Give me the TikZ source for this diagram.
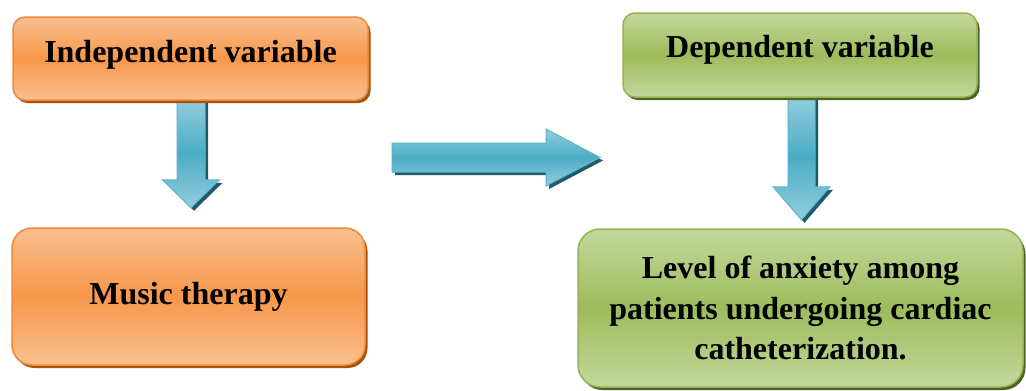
\documentclass[tikz,border=0pt]{standalone}
\usepackage{fontspec}
\setmainfont{Liberation Serif}
\usetikzlibrary{calc,shadows}
\definecolor{orMid}{HTML}{F7974A}
\definecolor{orLight}{HTML}{F9BF8F}
\definecolor{orLine}{HTML}{F08A38}
\definecolor{orShadow}{HTML}{A8520C}
\definecolor{grMid}{HTML}{9DBC5C}
\definecolor{grLight}{HTML}{C4D79C}
\definecolor{grLine}{HTML}{94B452}
\definecolor{grShadow}{HTML}{4F6228}
\definecolor{blMid}{HTML}{4BACC6}
\definecolor{blLight}{HTML}{93CEDD}
\definecolor{blLine}{HTML}{5AB4CC}
\definecolor{blShadow}{HTML}{215968}
\newcommand\myVArrow[5]{% start, tip, shaft half width, head half width, head length
  \fill[blShadow] let \p1=(#1), \p2=(#2) in
    (\x1-#3pt+3pt,\y1) -- (\x1+#3pt+3pt,\y1) -- (\x1+#3pt+3pt,\y2+#5pt-3pt)
    -- (\x1+#4pt+3pt,\y2+#5pt-3pt) -- (\x1+3pt,\y2-3pt) -- (\x1-#4pt+3pt,\y2+#5pt-3pt)
    -- (\x1-#3pt+3pt,\y2+#5pt-3pt) -- cycle;
  \shade[arrowfill] let \p1=(#1), \p2=(#2) in
    (\x1-#3pt,\y1) -- (\x1+#3pt,\y1) -- (\x1+#3pt,\y2+#5pt)
    -- (\x1+#4pt,\y2+#5pt) -- (\x1,\y2) -- (\x1-#4pt,\y2+#5pt)
    -- (\x1-#3pt,\y2+#5pt) -- cycle;
}
\begin{document}
\begin{tikzpicture}[x=1pt,y=-1pt,
  box/.style={line width=1.5pt, inner sep=0pt, align=center,
    font=\fontsize{32}{40.5}\selectfont\bfseries},
  orangebox/.style={box, draw=orLine, top color=orLight, bottom color=orLight, middle color=orMid,
    drop shadow={shadow xshift=2.5pt, shadow yshift=-3pt, fill=orShadow, opacity=1}},
  greenbox/.style={box, draw=grLine, top color=grLight, bottom color=grLight, middle color=grMid,
    drop shadow={shadow xshift=2.5pt, shadow yshift=-3pt, fill=grShadow, opacity=1}},
  arrowfill/.style={draw=blLine, line width=1pt, top color=blLight, bottom color=blLight, middle color=blMid}
]
\useasboundingbox (0,0) rectangle (1026,391);
\clip (0,0) rectangle (1026,391);
\fill[white] (0,0) rectangle (1026,391);

% boxes (coordinates only first, for arrows)
\path (190.5,58.5) node[minimum width=355pt, minimum height=83pt] (A) {};
\path (188.5,296.5) node[minimum width=353pt, minimum height=137pt] (B) {};
\path (800,55) node[minimum width=354pt, minimum height=84pt] (C) {};
\path (800.5,308) node[minimum width=445pt, minimum height=158pt] (D) {};

% connectors
\coordinate (a1s) at ($(A.south)+(0.5,-2)$);
\coordinate (a1e) at ($(B.north)+(0.5,-20)$);
\myVArrow{a1s}{a1e}{14}{28.5}{28}
\coordinate (a2s) at ($(C.south)+(1.5,-2)$);
\coordinate (a2e) at ($(D.north)+(1.5,-9)$);
\myVArrow{a2s}{a2e}{13.5}{28.5}{33}

\coordinate (hs) at (392,157.5);
\coordinate (he) at (600,157.5);
\fill[blShadow] let \p1=(hs), \p2=(he) in
  (\x1+3pt,\y1-14.5pt-3pt) -- (\x2-54pt+3pt,\y1-14.5pt-3pt) -- (\x2-54pt+3pt,\y1-28.5pt-3pt)
  -- (\x2+3pt,\y2-3pt) -- (\x2-54pt+3pt,\y1+28.5pt-3pt) -- (\x2-54pt+3pt,\y1+14.5pt-3pt)
  -- (\x1+3pt,\y1+14.5pt-3pt) -- cycle;
\shade[arrowfill] let \p1=(hs), \p2=(he) in
  (\x1,\y1-14.5pt) -- (\x2-54pt,\y1-14.5pt) -- (\x2-54pt,\y1-28.5pt)
  -- (\x2,\y2) -- (\x2-54pt,\y1+28.5pt) -- (\x2-54pt,\y1+14.5pt)
  -- (\x1,\y1+14.5pt) -- cycle;

% visible boxes
\node[orangebox, rounded corners=12pt, minimum width=355pt, minimum height=83pt,
  text height=22pt, text depth=15pt] (Abox) at (A) {Independent variable};
\node[orangebox, rounded corners=20pt, minimum width=353pt, minimum height=137pt] (Bbox) at (B) {Music therapy};
\node[greenbox, rounded corners=12pt, minimum width=354pt, minimum height=84pt,
  text height=22pt, text depth=18pt] (Cbox) at (C) {Dependent variable};
\node[greenbox, rounded corners=22pt, minimum width=445pt, minimum height=158pt] (Dbox) at (D)
  {Level of anxiety among\\patients undergoing cardiac\\catheterization.};
\end{tikzpicture}
\end{document}
